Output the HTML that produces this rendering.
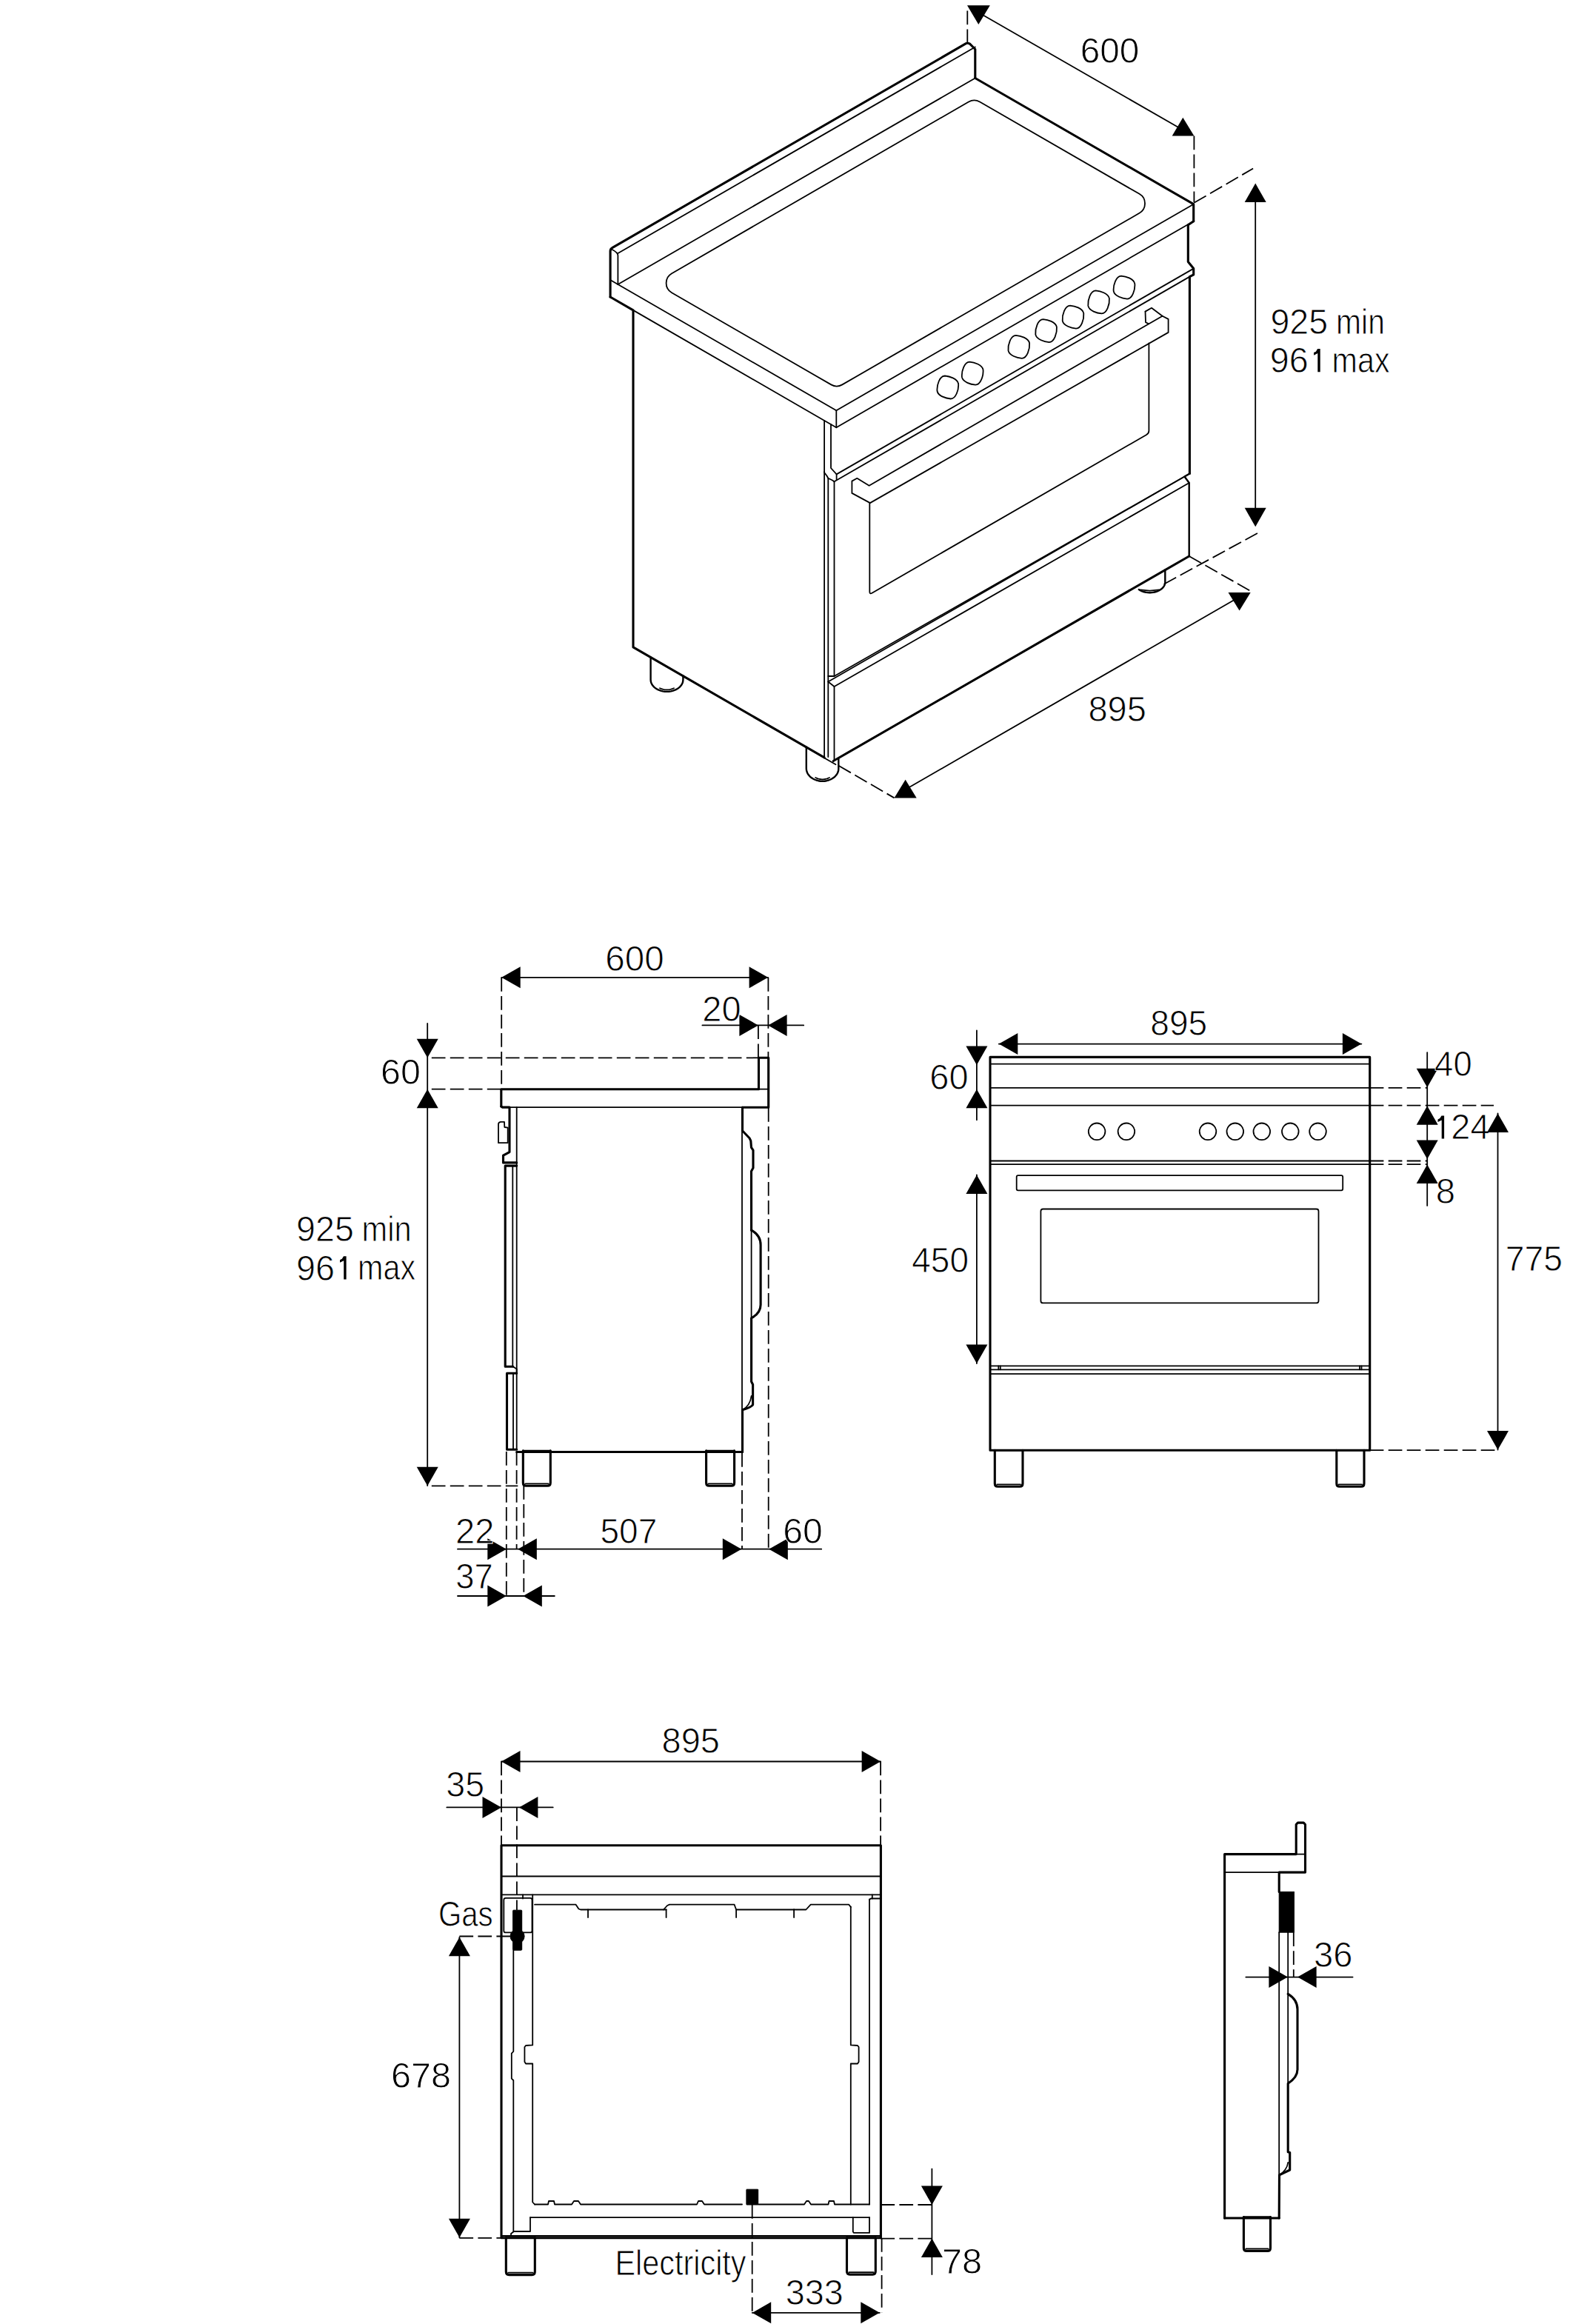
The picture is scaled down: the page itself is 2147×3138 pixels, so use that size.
<!DOCTYPE html>
<html><head><meta charset="utf-8"><style>
html,body{margin:0;padding:0;background:#fff;}
svg{display:block;}
.t{fill:none;stroke:#000;stroke-width:3.1;stroke-linejoin:round;stroke-linecap:round}
.m{fill:none;stroke:#000;stroke-width:2.4;stroke-linejoin:round;stroke-linecap:round}
.n{fill:none;stroke:#000;stroke-width:1.8;stroke-linejoin:round;stroke-linecap:round}
.d{fill:none;stroke:#000;stroke-width:1.8;stroke-dasharray:18.7 6.3}
.fl{fill:#000;stroke:none}
.fk{fill:#000;stroke:#000;stroke-width:1}
text{font-family:"Liberation Sans",sans-serif;fill:#000;stroke:#fff;stroke-width:0.9px;paint-order:normal}
</style></head><body>
<svg width="2147" height="3138" viewBox="0 0 2147 3138">
<rect x="0" y="0" width="2147" height="3138" fill="#fff"/>
<path class="t" d="M824.1,401 L824.1,339 Q824.1,336 827.1,334.3 L1304.5,58.7 Q1306.5,57.5 1309.5,59.2 L1316.8,66.5 L1316.8,105.5"/>
<polyline class="t" points="1316.8,105.5 1611.7,275.7 1611.7,298.7"/>
<polyline class="t" points="1611.7,298.7 1604.3,303.7 1604.3,353.6 1611.7,362.6 1611.7,370.9 1606.4,373.6 1606.4,639.5"/>
<polyline class="m" points="1606.4,639.5 1599.5,643.5 1605.7,652 1605.7,751"/>
<polyline class="t" points="824.1,401 855,418.9 855,873.9 1113.1,1022.9"/>
<line class="n" x1="1112.8" y1="1023.2" x2="1128.5" y2="1032.3"/>
<polyline class="t" points="1125.3,1027.5 1605.7,751"/>
<path class="n" d="M826.6,337 Q834.4,341 834.4,345 L834.4,384"/>
<line class="n" x1="834.4" y1="342" x2="1316.8" y2="63.5"/>
<line class="n" x1="824.1" y1="378" x2="834.4" y2="384"/>
<line class="n" x1="834.4" y1="384" x2="1316.8" y2="105.5"/>
<line class="n" x1="834.4" y1="384" x2="1129.3" y2="554.2"/>
<line class="n" x1="855" y1="418.9" x2="1129.3" y2="577.2"/>
<line class="n" x1="1129.3" y1="554.2" x2="1611.7" y2="275.7"/>
<line class="n" x1="1129.3" y1="577.2" x2="1611.7" y2="298.7"/>
<line class="n" x1="1129.3" y1="554.2" x2="1129.3" y2="577.2"/>
<path class="n" d="M907.1,369.2 L1308,137.5 A15,15 0 0,1 1323,137.5 L1538.5,261.8 A15,15 0 0,1 1538.5,287.8 L1137.3,519.4 A15,15 0 0,1 1122.3,519.4 L907.1,395.2 A15,15 0 0,1 907.1,369.2 Z"/>
<polyline class="n" points="1113.1,567.9 1113.1,638 1116.5,642.5 1118.3,645.8 1118.3,1022"/>
<line class="n" x1="1113.1" y1="637" x2="1113.1" y2="1022.9"/>
<polyline class="n" points="1122,572.8 1122,632 1129.6,640.4 1129.6,647.5"/>
<line class="n" x1="1129.6" y1="640.4" x2="1611.7" y2="362.6"/>
<line class="n" x1="1126.5" y1="650.3" x2="1606.4" y2="373.6"/>
<polyline class="n" points="1118.3,645.8 1124,648.5 1126.5,650.3"/>
<line class="n" x1="1126.5" y1="650.3" x2="1126.5" y2="913"/>
<polyline class="n" points="1118.3,913 1126.5,913"/>
<line class="n" x1="1126.5" y1="913" x2="1606.4" y2="639.5"/>
<line class="n" x1="1118.3" y1="920.5" x2="1599.5" y2="643.5"/>
<line class="n" x1="1126.5" y1="927" x2="1605.7" y2="652"/>
<polyline class="n" points="1118.3,920.5 1126.5,927 1126.5,1026"/>
<polyline class="n" points="1150.4,649.6 1157.3,645.8 1173.6,655.8 1569.6,426.7 1577.6,430.9 1577.6,448.9 1174.9,679.1 1150.4,665.9 1150.4,649.6"/>
<polyline class="n" points="1546.5,420.6 1555,415.8 1569.6,426.7"/>
<polyline class="n" points="1546.5,420.6 1547,435.2 1550.8,437.1"/>
<path class="n" d="M1174.3,679.1 L1174.3,799 Q1174.3,802.5 1177.5,800.7 L1548.2,587.0 Q1551.4,585.2 1551.4,581.5 L1551.4,463.5"/>
<path class="n" d="M1275.8,507.5 C1281.8,508 1292.8,511 1294.1,518 C1294.8,526 1290.8,538.5 1283.8,538.5 C1277.8,538 1266.8,535 1265.5,528 C1264.8,520 1268.8,507.5 1275.8,507.5 Z"/>
<path class="n" d="M1309.2,488.7 C1315.2,489.2 1326.2,492.2 1327.5,499.2 C1328.2,507.2 1324.2,519.7 1317.2,519.7 C1311.2,519.2 1300.2,516.2 1298.9,509.2 C1298.2,501.2 1302.2,488.7 1309.2,488.7 Z"/>
<path class="n" d="M1371.8,452.8 C1377.8,453.3 1388.8,456.3 1390.1,463.3 C1390.8,471.3 1386.8,483.8 1379.8,483.8 C1373.8,483.3 1362.8,480.3 1361.5,473.3 C1360.8,465.3 1364.8,452.8 1371.8,452.8 Z"/>
<path class="n" d="M1408.6,431.1 C1414.6,431.6 1425.6,434.6 1426.9,441.6 C1427.6,449.6 1423.6,462.1 1416.6,462.1 C1410.6,461.6 1399.6,458.6 1398.3,451.6 C1397.6,443.6 1401.6,431.1 1408.6,431.1 Z"/>
<path class="n" d="M1445,412.6 C1451,413.1 1462,416.1 1463.3,423.1 C1464,431.1 1460,443.6 1453,443.6 C1447,443.1 1436,440.1 1434.7,433.1 C1434,425.1 1438,412.6 1445,412.6 Z"/>
<path class="n" d="M1479.6,392.4 C1485.6,392.9 1496.6,395.9 1497.9,402.9 C1498.6,410.9 1494.6,423.4 1487.6,423.4 C1481.6,422.9 1470.6,419.9 1469.3,412.9 C1468.6,404.9 1472.6,392.4 1479.6,392.4 Z"/>
<path class="n" d="M1514,372.6 C1520,373.1 1531,376.1 1532.3,383.1 C1533,391.1 1529,403.6 1522,403.6 C1516,403.1 1505,400.1 1503.7,393.1 C1503,385.1 1507,372.6 1514,372.6 Z"/>
<polyline class="m" points="878.6,887.5 878.6,917.8 878.8,919.9 879.3,922 880.3,924 881.5,925.8 883.1,927.6 885,929.2 887.2,930.6 889.5,931.7 892.1,932.7 894.8,933.4 897.6,933.8 900.5,933.9 903.4,933.8 906.2,933.4 908.9,932.7 911.5,931.7 913.8,930.6 916,929.2 917.9,927.6 919.5,925.8 920.7,924 921.7,922 922.2,919.9 922.4,917.8 922.4,912.5"/>
<polyline class="n" points="891,929.2 892.5,929.9 894,930.4 895.6,930.9 897.2,931.2 898.9,931.3 900.5,931.4 902.1,931.3 903.8,931.2 905.4,930.9 907,930.4 908.5,929.9 910,929.2"/>
<polyline class="m" points="1088.8,1008.6 1088.8,1037.8 1089,1040 1089.6,1042.2 1090.5,1044.3 1091.8,1046.3 1093.3,1048.1 1095.2,1049.8 1097.4,1051.3 1099.7,1052.5 1102.3,1053.5 1105,1054.2 1107.8,1054.7 1110.6,1054.8 1113.4,1054.7 1116.2,1054.2 1118.9,1053.5 1121.5,1052.5 1123.8,1051.3 1126,1049.8 1127.9,1048.1 1129.4,1046.3 1130.7,1044.3 1131.6,1042.2 1132.2,1040 1132.3,1037.8 1132.3,1024.7"/>
<polyline class="n" points="1101.2,1050 1102.7,1050.7 1104.2,1051.3 1105.7,1051.7 1107.3,1052 1109,1052.2 1110.6,1052.3 1112.2,1052.2 1113.9,1052 1115.5,1051.7 1117,1051.3 1118.5,1050.7 1120,1050"/>
<polyline class="m" points="1537.8,796.1 1538.6,796.6 1539.4,797.1 1540.3,797.5 1541.2,797.9 1542.1,798.3 1543.1,798.7 1544,799 1545,799.3 1546.1,799.5 1547.1,799.7 1548.2,799.9 1549.2,800 1550.3,800.1 1551.4,800.2 1552.5,800.2 1552.5,800.2 1553.6,800.2 1554.7,800.1 1555.8,800 1556.8,799.9 1557.9,799.7 1558.9,799.5 1560,799.3 1561,799 1561.9,798.7 1562.9,798.3 1563.8,797.9 1564.7,797.5 1565.6,797.1 1566.4,796.6 1567.2,796.1 1568,795.6 1568.7,795 1569.3,794.4 1569.9,793.8 1570.5,793.2 1571,792.6 1571.5,791.9 1571.9,791.2 1572.3,790.5 1572.6,789.8 1572.8,789.1 1573,788.4 1573.2,787.7 1573.3,786.9 1573.3,786.2 1573.3,769.5"/>
<polyline class="n" points="1540,796.3 1552.5,797.6 1565,796.3"/>
<line class="d" x1="1306.3" y1="14.5" x2="1306.3" y2="57"/>
<polygon class="fl" points="1306,7.3 1336.8,7.3 1321.3,33"/>
<line class="n" x1="1325" y1="19" x2="1593" y2="173"/>
<polygon class="fl" points="1582.7,183.5 1612.4,183.5 1597.3,158.8"/>
<line class="d" x1="1612.4" y1="183.5" x2="1612.4" y2="273.3"/>
<text class="tx" transform="translate(1458.7,85.2) scale(0.9864,1)" font-size="48.4">600</text>
<line class="d" x1="1612.4" y1="273.8" x2="1692.1" y2="227.5"/>
<polygon class="fl" points="1695.2,247.6 1680.7,273.1 1709.7,273.1"/>
<line class="n" x1="1695.2" y1="272" x2="1695.2" y2="688"/>
<polygon class="fl" points="1695.2,711.3 1680.7,685.8 1709.7,685.8"/>
<line class="d" x1="1571.7" y1="788.7" x2="1700" y2="718.9"/>
<text class="tx" transform="translate(1715.4,450.8) scale(0.9618,1)" font-size="48.4">925</text>
<text class="tx" transform="translate(1804.1,450.8) scale(0.8427,1)" font-size="48.4">min</text>
<text class="tx" transform="translate(1714.8,503.1) scale(0.9650,1)" font-size="48.4">96</text>
<polygon class="fl" points="1779.3,471.1 1782.7,471.1 1782.7,502.3 1779.3,502.3 1779.3,477.1 1774.1,479.7 1774.1,476.1 1776.9,474.7 1779.1,471.1"/>
<text class="tx" transform="translate(1798.6,502.9) scale(0.8523,1)" font-size="48.4">max</text>
<line class="d" x1="1132.7" y1="1034" x2="1207.5" y2="1077.4"/>
<line class="d" x1="1605.7" y1="751" x2="1688.7" y2="798.1"/>
<polygon class="fl" points="1207.5,1077.4 1237.7,1077.4 1222.6,1052.8"/>
<line class="n" x1="1222.6" y1="1066" x2="1673.6" y2="806"/>
<polygon class="fl" points="1658.5,800 1688.7,800 1673.6,824.5"/>
<text class="tx" transform="translate(1469.4,974.4) scale(0.9729,1)" font-size="48.4">895</text>
<line class="n" x1="677.2" y1="1319.8" x2="1037.1" y2="1319.8"/>
<polygon class="fl" points="677.2,1319.8 702.7,1305.3 702.7,1334.3"/>
<polygon class="fl" points="1037.1,1319.8 1011.6,1305.3 1011.6,1334.3"/>
<text class="tx" transform="translate(817.2,1311.3) scale(0.9837,1)" font-size="48.4">600</text>
<line class="d" x1="677.2" y1="1320" x2="677.2" y2="1470"/>
<line class="d" x1="1037.4" y1="1320" x2="1037.4" y2="1428"/>
<line class="n" x1="948.4" y1="1384.4" x2="1085.2" y2="1384.4"/>
<polygon class="fl" points="1023.9,1384.4 998.4,1369.9 998.4,1398.9"/>
<polygon class="fl" points="1037.1,1384.4 1062.6,1369.9 1062.6,1398.9"/>
<text class="tx" transform="translate(948.3,1378.6) scale(0.9730,1)" font-size="48.4">20</text>
<line class="d" x1="1023.9" y1="1384.4" x2="1023.9" y2="1428"/>
<line class="n" x1="577.2" y1="1382" x2="577.2" y2="2006"/>
<polygon class="fl" points="577.2,1428.3 562.7,1402.8 591.7,1402.8"/>
<polygon class="fl" points="577.2,1470.7 562.7,1496.2 591.7,1496.2"/>
<polygon class="fl" points="577.2,2006.3 562.7,1980.8 591.7,1980.8"/>
<line class="d" x1="582.8" y1="1428.3" x2="1023.9" y2="1428.3"/>
<line class="d" x1="582.8" y1="1470.7" x2="677" y2="1470.7"/>
<line class="d" x1="582.8" y1="2006.3" x2="699.3" y2="2006.3"/>
<text class="tx" transform="translate(514.1,1463.7) scale(1.0007,1)" font-size="48.4">60</text>
<text class="tx" transform="translate(400.1,1675.5) scale(0.9623,1)" font-size="48.4">925</text>
<text class="tx" transform="translate(488.6,1675.6) scale(0.8575,1)" font-size="48.4">min</text>
<text class="tx" transform="translate(400.1,1728.5) scale(0.9650,1)" font-size="48.4">96</text>
<polygon class="fl" points="464.2,1696.2 467.6,1696.2 467.6,1727.4 464.2,1727.4 464.2,1702.2 459,1704.8 459,1701.2 461.8,1699.8 464,1696.2"/>
<text class="tx" transform="translate(483.1,1727.9) scale(0.8524,1)" font-size="48.4">max</text>
<polyline class="t" points="676.8,1494 676.8,1470.7 1024.5,1470.7 1024.5,1428.3 1037.7,1428.3 1037.7,1495.2 1002.5,1495.2"/>
<line class="n" x1="1024.5" y1="1470.7" x2="1037.7" y2="1470.7"/>
<line class="n" x1="688" y1="1495.1" x2="1002.5" y2="1495.1"/>
<polyline class="t" points="676.8,1494 678.5,1495.1 688,1495.1 688,1555.6 679.5,1560.2 679.5,1569.9 697.7,1569.9"/>
<path class="n" d="M673,1543.2 L673,1518 Q673,1515.5 676,1514.9 L681,1514.9 L681.3,1522 L685.7,1522.7 L685.7,1543.2 Z"/>
<line class="n" x1="697.7" y1="1495.1" x2="697.7" y2="1957.2"/>
<polyline class="t" points="697.7,1574.1 682.2,1574.1 682.2,1845.3 692.7,1845.3"/>
<line class="n" x1="692.3" y1="1574.1" x2="692.3" y2="1845.3"/>
<polyline class="n" points="692.7,1845.3 697.7,1848.5 697.7,1854.2"/>
<polyline class="t" points="697.7,1854.2 684.5,1854.2 684.5,1957.2 697.7,1957.2"/>
<line class="n" x1="693" y1="1854.2" x2="693" y2="1957.2"/>
<line class="t" x1="697.7" y1="1960.5" x2="1002.5" y2="1960.5"/>
<polyline class="t" points="1002.5,1495.2 1002.5,1526.7 1012,1536.7 1013.8,1540.5 1014.5,1549.3 1017,1553.1 1017,1577 1014.5,1581.4 1014.6,1661.1"/>
<path class="t" d="M1014.6,1661.1 Q1027.1,1668 1027.1,1681 L1027.1,1761.7 Q1027.1,1773 1014.6,1779.8 L1014.6,1865.5 L1016.6,1869.5 L1016.6,1896.6 Q1015,1900 1002.5,1903.7 L1002.5,1960.5"/>
<line class="n" x1="1002" y1="1526.7" x2="1002" y2="1903.7"/>
<line class="n" x1="1014.6" y1="1661.1" x2="1014.6" y2="1779.8"/>
<path class="n" d="M1002.5,1903.7 Q1013,1898 1014.6,1885"/>
<path class="t" d="M706.3,1958.9 L706.3,2002.3 Q706.3,2006.3 710.3,2006.3 L739.3,2006.3 Q743.3,2006.3 743.3,2002.3 L743.3,1958.9"/>
<line class="n" x1="709.3" y1="2003.3" x2="740.3" y2="2003.3"/>
<line class="m" x1="706.3" y1="1958.9" x2="743.3" y2="1958.9"/>
<path class="t" d="M953.6,1958.9 L953.6,2002.3 Q953.6,2006.3 957.6,2006.3 L987.6,2006.3 Q991.6,2006.3 991.6,2002.3 L991.6,1958.9"/>
<line class="n" x1="956.6" y1="2003.3" x2="988.6" y2="2003.3"/>
<line class="m" x1="953.6" y1="1958.9" x2="991.6" y2="1958.9"/>
<line class="d" x1="683.8" y1="1960" x2="683.8" y2="2155"/>
<line class="d" x1="697.6" y1="1960" x2="697.6" y2="2091.7"/>
<line class="d" x1="707.3" y1="2006" x2="707.3" y2="2155"/>
<line class="d" x1="1002" y1="1962" x2="1002" y2="2091.7"/>
<line class="d" x1="1037.7" y1="1496" x2="1037.7" y2="2091.7"/>
<line class="n" x1="618" y1="2091.7" x2="1109.2" y2="2091.7"/>
<polygon class="fl" points="683.8,2091.7 658.3,2077.2 658.3,2106.2"/>
<polygon class="fl" points="699.3,2091.7 724.8,2077.2 724.8,2106.2"/>
<polygon class="fl" points="1001.3,2091.7 975.8,2077.2 975.8,2106.2"/>
<polygon class="fl" points="1038.3,2091.7 1063.8,2077.2 1063.8,2106.2"/>
<text class="tx" transform="translate(615.1,2083.6) scale(0.9734,1)" font-size="48.4">22</text>
<text class="tx" transform="translate(810.5,2083.6) scale(0.9506,1)" font-size="48.4">507</text>
<text class="tx" transform="translate(1057.2,2083.6) scale(0.9965,1)" font-size="48.4">60</text>
<line class="n" x1="618" y1="2155" x2="748.8" y2="2155"/>
<polygon class="fl" points="683.8,2155 658.3,2140.5 658.3,2169.5"/>
<polygon class="fl" points="706.3,2155 731.8,2140.5 731.8,2169.5"/>
<text class="tx" transform="translate(615.2,2145.4) scale(0.9375,1)" font-size="48.4">37</text>
<polyline class="t" points="1337,1958.2 1337,1427.4 1849.7,1427.4 1849.7,1958.2 1337,1958.2"/>
<line class="n" x1="1337" y1="1436.7" x2="1849.7" y2="1436.7"/>
<line class="n" x1="1337" y1="1468.9" x2="1849.7" y2="1468.9"/>
<line class="n" x1="1337" y1="1492.6" x2="1849.7" y2="1492.6"/>
<line class="n" x1="1337" y1="1567.5" x2="1849.7" y2="1567.5"/>
<line class="n" x1="1337" y1="1572.1" x2="1849.7" y2="1572.1"/>
<line class="n" x1="1337" y1="1844.3" x2="1849.7" y2="1844.3"/>
<line class="n" x1="1337" y1="1849.3" x2="1849.7" y2="1849.3"/>
<line class="n" x1="1337" y1="1855.1" x2="1849.7" y2="1855.1"/>
<circle class="n" cx="1481.1" cy="1527.8" r="11.3"/>
<circle class="n" cx="1520.9" cy="1527.8" r="11.3"/>
<circle class="n" cx="1631" cy="1527.8" r="11.3"/>
<circle class="n" cx="1667.8" cy="1527.8" r="11.3"/>
<circle class="n" cx="1703.8" cy="1527.8" r="11.3"/>
<circle class="n" cx="1742.3" cy="1527.8" r="11.3"/>
<circle class="n" cx="1779.5" cy="1527.8" r="11.3"/>
<rect class="n" x="1372.7" y="1587.2" width="440.5" height="20.1" rx="2"/>
<rect class="n" x="1405.4" y="1632.5" width="375.1" height="126.9" rx="3"/>
<line class="n" x1="1348.3" y1="1844.3" x2="1348.3" y2="1849.3"/>
<line class="n" x1="1350.8" y1="1844.3" x2="1350.8" y2="1849.3"/>
<line class="n" x1="1836" y1="1844.3" x2="1836" y2="1849.3"/>
<line class="n" x1="1838.5" y1="1844.3" x2="1838.5" y2="1849.3"/>
<path class="t" d="M1343.3,1958.2 L1343.3,2003.3 Q1343.3,2007.3 1347.3,2007.3 L1377,2007.3 Q1381,2007.3 1381,2003.3 L1381,1958.2"/>
<line class="n" x1="1346.3" y1="2004.3" x2="1378" y2="2004.3"/>
<line class="m" x1="1343.3" y1="1958.2" x2="1381" y2="1958.2"/>
<path class="t" d="M1804.8,1958.2 L1804.8,2003.3 Q1804.8,2007.3 1808.8,2007.3 L1838,2007.3 Q1842,2007.3 1842,2003.3 L1842,1958.2"/>
<line class="n" x1="1807.8" y1="2004.3" x2="1839" y2="2004.3"/>
<line class="m" x1="1804.8" y1="1958.2" x2="1842" y2="1958.2"/>
<line class="n" x1="1348.8" y1="1409.6" x2="1838.4" y2="1409.6"/>
<polygon class="fl" points="1348.8,1409.6 1374.3,1395.1 1374.3,1424.1"/>
<polygon class="fl" points="1838.4,1409.6 1812.9,1395.1 1812.9,1424.1"/>
<text class="tx" transform="translate(1553.3,1398.3) scale(0.9532,1)" font-size="48.4">895</text>
<line class="n" x1="1318.9" y1="1391.4" x2="1318.9" y2="1512.2"/>
<polygon class="fl" points="1318.9,1438 1304.4,1412.5 1333.4,1412.5"/>
<polygon class="fl" points="1318.9,1470.7 1304.4,1496.2 1333.4,1496.2"/>
<text class="tx" transform="translate(1255.3,1471.3) scale(0.9717,1)" font-size="48.4">60</text>
<line class="n" x1="1318.9" y1="1586.4" x2="1318.9" y2="1841"/>
<polygon class="fl" points="1318.9,1586.4 1304.4,1611.9 1333.4,1611.9"/>
<polygon class="fl" points="1318.9,1841 1304.4,1815.5 1333.4,1815.5"/>
<text class="tx" transform="translate(1231.2,1718.2) scale(0.9510,1)" font-size="48.4">450</text>
<line class="n" x1="1927.2" y1="1421.1" x2="1927.2" y2="1627.9"/>
<polygon class="fl" points="1927.2,1468.2 1912.7,1442.7 1941.7,1442.7"/>
<polygon class="fl" points="1927.2,1493.3 1912.7,1518.8 1941.7,1518.8"/>
<polygon class="fl" points="1927.2,1565 1912.7,1539.5 1941.7,1539.5"/>
<polygon class="fl" points="1927.2,1572.6 1912.7,1598.1 1941.7,1598.1"/>
<line class="d" x1="1849.7" y1="1468.9" x2="1927.2" y2="1468.9"/>
<line class="d" x1="1849.7" y1="1492.6" x2="2017" y2="1492.6"/>
<line class="d" x1="1849.7" y1="1567.5" x2="1927.2" y2="1567.5"/>
<line class="d" x1="1849.7" y1="1572.1" x2="1927.2" y2="1572.1"/>
<text class="tx" transform="translate(1937.1,1453.2) scale(0.9403,1)" font-size="48.4">40</text>
<polygon class="fl" points="1946.7,1506.4 1950.1,1506.4 1950.1,1537.6 1946.7,1537.6 1946.7,1512.4 1941.5,1515 1941.5,1511.4 1944.3,1510 1946.5,1506.4"/>
<text class="tx" transform="translate(1959.3,1538.4) scale(0.9695,1)" font-size="48.4">24</text>
<text class="tx" transform="translate(1938.8,1624.8) scale(0.9764,1)" font-size="48.4">8</text>
<line class="n" x1="2022.5" y1="1503.4" x2="2022.5" y2="1957.6"/>
<polygon class="fl" points="2022.5,1503.4 2008,1528.9 2037,1528.9"/>
<polygon class="fl" points="2022.5,1957.6 2008,1932.1 2037,1932.1"/>
<line class="d" x1="1849.7" y1="1958.2" x2="2022.5" y2="1958.2"/>
<text class="tx" transform="translate(2032.8,1715.5) scale(0.9559,1)" font-size="48.4">775</text>
<line class="n" x1="677" y1="2378.5" x2="1189.1" y2="2378.5"/>
<polygon class="fl" points="677,2378.5 702.5,2364 702.5,2393"/>
<polygon class="fl" points="1189.1,2378.5 1163.6,2364 1163.6,2393"/>
<text class="tx" transform="translate(893.5,2367.3) scale(0.9718,1)" font-size="48.4">895</text>
<line class="d" x1="677" y1="2378.5" x2="677" y2="2491.7"/>
<line class="d" x1="1189.1" y1="2378.5" x2="1189.1" y2="2491.7"/>
<line class="d" x1="697.9" y1="2440.4" x2="697.9" y2="2579"/>
<line class="n" x1="603.3" y1="2440.4" x2="746.7" y2="2440.4"/>
<polygon class="fl" points="677,2440.4 651.5,2425.9 651.5,2454.9"/>
<polygon class="fl" points="700.9,2440.4 726.4,2425.9 726.4,2454.9"/>
<text class="tx" transform="translate(602.3,2425.5) scale(0.9615,1)" font-size="48.4">35</text>
<polyline class="t" points="677,3021.8 677,2491.7 1189.4,2491.7 1189.4,3021.8 677,3021.8"/>
<line class="n" x1="677" y1="2533.5" x2="1189.4" y2="2533.5"/>
<line class="n" x1="677" y1="2558.4" x2="1189.4" y2="2558.4"/>
<line class="n" x1="677" y1="3019" x2="1189.4" y2="3019"/>
<polyline class="n" points="719.2,2558.4 719.2,2761.4 710,2762 708.4,2764 708.4,2784 710,2786.5 719.2,2786.5 719.2,2973.5 722,2976.5"/>
<polyline class="n" points="1148.8,2574.5 1148.8,2761.4 1158,2762 1159.6,2764 1159.6,2784 1158,2786.5 1148.8,2786.5 1148.8,2976.5"/>
<polyline class="n" points="722,2571.7 777.6,2571.7 781.4,2577.5 784,2578.5 899.6,2578.5"/>
<polyline class="n" points="794,2578.5 794,2589"/>
<polyline class="n" points="899.6,2578.5 899.6,2589"/>
<polyline class="n" points="896,2578.5 901,2573 904,2571.7 991.6,2571.7 994.1,2578.5 1072.1,2578.5"/>
<polyline class="n" points="994.1,2578.5 994.1,2589"/>
<polyline class="n" points="1072.1,2578.5 1072.1,2589"/>
<polyline class="n" points="1072.1,2578.5 1088.4,2578.5 1094.7,2571.7 1146.3,2571.7 1148.8,2575"/>
<polyline class="n" points="722,2976.5 740,2976.5 741,2972 748,2972 749,2976.5 772,2976.5 775,2972 781,2972 784,2976.5 941,2976.5 943,2972 948,2972 951,2976.5 1002,2976.5"/>
<polyline class="n" points="1024,2976.5 1086,2976.5 1089,2972 1092,2972 1095,2976.5 1118.5,2976.5 1119.5,2972 1126,2972 1127,2976.5 1174,2976.5"/>
<line class="n" x1="716" y1="2994.1" x2="1174" y2="2994.1"/>
<polyline class="n" points="716,2994.1 716,3013 694,3013 690,3016 690,3019"/>
<polyline class="n" points="1151.8,2994.1 1151.8,3013.5 1153,3014.9 1174,3014.9 1174,2994.1"/>
<polyline class="n" points="693.3,2633.3 693.3,2770 690.8,2772.7 690.8,2806.7 693.3,2809 693.3,3013"/>
<polyline class="n" points="1174,2564.4 1174,2976.5"/>
<polyline class="n" points="1174,2565 1176,2563.5 1189.4,2563.5"/>
<line class="n" x1="1177.8" y1="2558.4" x2="1177.8" y2="2563.5"/>
<rect class="n" x="680.3" y="2562.9" width="38.2" height="46.5" rx="2.5"/>
<line class="n" x1="706" y1="2558.4" x2="706" y2="2563.5"/>
<rect class="fk" x="692.6" y="2579.2" width="12.1" height="54.1" rx="1"/>
<circle class="fk" cx="698.6" cy="2614.5" r="9.5"/>
<line class="d" x1="620.4" y1="2614.5" x2="690.8" y2="2614.5"/>
<line class="n" x1="620.4" y1="2615.7" x2="620.4" y2="3021.3"/>
<polygon class="fl" points="620.4,2615.7 605.9,2641.2 634.9,2641.2"/>
<polygon class="fl" points="620.4,3021.3 605.9,2995.8 634.9,2995.8"/>
<line class="d" x1="620.4" y1="3021.8" x2="677" y2="3021.8"/>
<text class="tx" transform="translate(591.9,2601.4) scale(0.8301,1)" font-size="48.4">Gas</text>
<text class="tx" transform="translate(528,2819) scale(1.0041,1)" font-size="48.4">678</text>
<path class="t" d="M683.3,3021.8 L683.3,3067.6 Q683.3,3071.6 687.3,3071.6 L718.3,3071.6 Q722.3,3071.6 722.3,3067.6 L722.3,3021.8"/>
<line class="n" x1="686.3" y1="3068.6" x2="719.3" y2="3068.6"/>
<line class="m" x1="683.3" y1="3021.8" x2="722.3" y2="3021.8"/>
<path class="t" d="M1143.5,3021.8 L1143.5,3067.1 Q1143.5,3071.1 1147.5,3071.1 L1178.3,3071.1 Q1182.3,3071.1 1182.3,3067.1 L1182.3,3021.8"/>
<line class="n" x1="1146.5" y1="3068.1" x2="1179.3" y2="3068.1"/>
<line class="m" x1="1143.5" y1="3021.8" x2="1182.3" y2="3021.8"/>
<rect class="fk" x="1007.9" y="2956.2" width="15.8" height="20.8" rx="0.5"/>
<line class="d" x1="1015.7" y1="2977" x2="1015.7" y2="3122.3"/>
<line class="d" x1="1190.6" y1="3022" x2="1190.6" y2="3122.3"/>
<line class="n" x1="1015.7" y1="3122.8" x2="1187.8" y2="3122.8"/>
<polygon class="fl" points="1015.7,3122.8 1041.2,3108.3 1041.2,3137.3"/>
<polygon class="fl" points="1187.8,3122.8 1162.3,3108.3 1162.3,3137.3"/>
<text class="tx" transform="translate(1060.7,3111.8) scale(0.9672,1)" font-size="48.4">333</text>
<line class="n" x1="1258.4" y1="2928.6" x2="1258.4" y2="3071.1"/>
<polygon class="fl" points="1258.4,2977 1243.9,2951.5 1272.9,2951.5"/>
<polygon class="fl" points="1258.4,3022.6 1243.9,3048.1 1272.9,3048.1"/>
<line class="d" x1="1189.4" y1="2977" x2="1258.4" y2="2977"/>
<line class="d" x1="1189.4" y1="3022.6" x2="1258.4" y2="3022.6"/>
<text class="tx" transform="translate(1271.9,3069.7) scale(1.0084,1)" font-size="48.4">78</text>
<text class="tx" transform="translate(830.4,3072.4) scale(0.8557,1)" font-size="48.4">Electricity</text>
<polyline class="t" points="1653.6,2995 1653.6,2503.6 1750.2,2503.6 1750.2,2463.5 1752.5,2461.1 1760.2,2461.1 1762.5,2463.5 1762.5,2528.1 1727.2,2528.1 1727.2,2554.5"/>
<line class="n" x1="1653.6" y1="2528.1" x2="1727.2" y2="2528.1"/>
<line class="n" x1="1750.2" y1="2503.6" x2="1762.5" y2="2503.6"/>
<rect class="fk" x="1727.2" y="2554.5" width="20.2" height="54.7" rx="0"/>
<line class="n" x1="1727.2" y1="2609.2" x2="1727.2" y2="2936.8"/>
<line class="n" x1="1739.2" y1="2609.2" x2="1739.2" y2="2692.3"/>
<line class="n" x1="1739.2" y1="2692.3" x2="1739.2" y2="2813.2"/>
<path class="t" d="M1739.2,2692.3 Q1752,2700 1752,2713 L1752,2794.3 Q1752,2805 1739.2,2813.2 L1739.2,2905.7 L1741.7,2906.5 L1741.7,2930 L1727.5,2936.8 L1727.2,2995"/>
<path class="n" d="M1727.5,2936.8 Q1738,2930 1739.2,2920"/>
<line class="t" x1="1653.6" y1="2995" x2="1727.2" y2="2995"/>
<line class="d" x1="1746.8" y1="2609.2" x2="1746.8" y2="2669.6"/>
<line class="n" x1="1682.3" y1="2669.6" x2="1826.6" y2="2669.6"/>
<polygon class="fl" points="1738.9,2669.6 1713.4,2655.1 1713.4,2684.1"/>
<polygon class="fl" points="1752.1,2669.6 1777.6,2655.1 1777.6,2684.1"/>
<text class="tx" transform="translate(1774.1,2655.5) scale(0.9738,1)" font-size="48.4">36</text>
<path class="t" d="M1679.4,2993.5 L1679.4,3035.5 Q1679.4,3039.5 1683.4,3039.5 L1711.5,3039.5 Q1715.5,3039.5 1715.5,3035.5 L1715.5,2993.5"/>
<line class="n" x1="1682.4" y1="3036.5" x2="1712.5" y2="3036.5"/>
<line class="m" x1="1679.4" y1="2993.5" x2="1715.5" y2="2993.5"/>
</svg></body></html>
